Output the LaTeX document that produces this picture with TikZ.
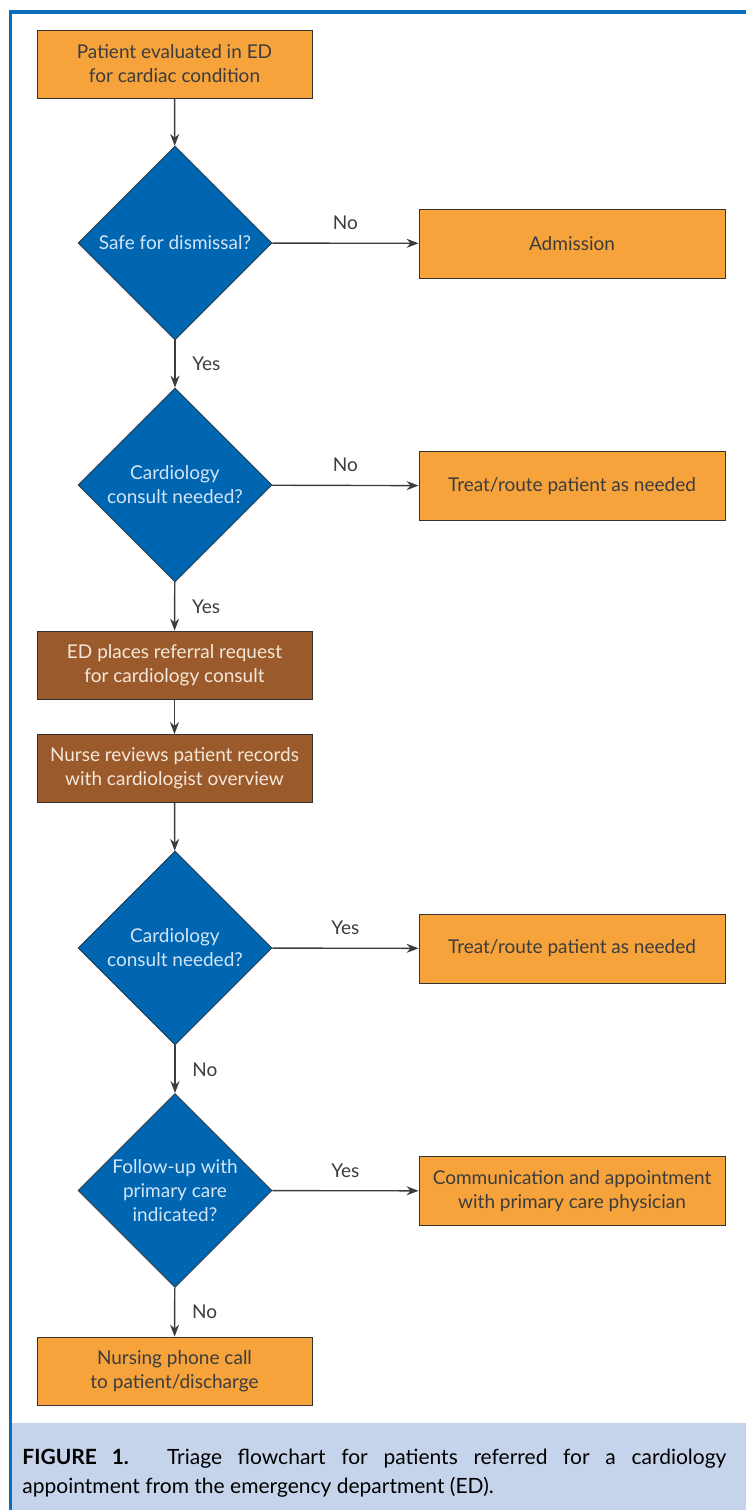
\documentclass[tikz,border=0pt]{standalone}
\usepackage{fontspec}
\setmainfont{Lato}
\usetikzlibrary{shapes.geometric,arrows.meta}
\definecolor{boxorange}{HTML}{F6A33C}
\definecolor{boxbrown}{HTML}{9B5A2B}
\definecolor{dmdblue}{HTML}{0066B2}
\definecolor{framblue}{HTML}{0A6EBD}
\definecolor{capblue}{HTML}{C6D4EB}
\definecolor{dmdtext}{HTML}{D3E5F5}
\definecolor{browntext}{HTML}{F4E8DA}
\definecolor{inkgray}{HTML}{3C3C3C}

\begin{document}
\begin{tikzpicture}[x=0.5pt,y=-0.5pt,
    every node/.style={font=\fontsize{9.5}{12}\selectfont},
    stepbox/.style={draw=black!80,fill=boxorange,text=inkgray,align=center,
        minimum width=137.5pt,minimum height=34pt,inner sep=0pt},
    widebox/.style={stepbox,minimum width=153pt,minimum height=34.5pt},
    brownbox/.style={stepbox,fill=boxbrown,text=browntext},
    decide/.style={diamond,draw=black!80,fill=dmdblue,text=dmdtext,align=center,
        minimum width=97pt,minimum height=97pt,inner sep=0pt},
    flow/.style={draw=inkgray,line width=0.7pt,-{Stealth[length=6pt,width=4.5pt]}},
    lbl/.style={text=inkgray}]
    \useasboundingbox (0,0) rectangle (746,1510);
    \fill[capblue](12,1423) rectangle (746,1510);
    \draw[framblue,line width=1.6pt](10.5,1510)--(10.5,12)--(746,12);

    \node[stepbox](start)at(174.5,64){Patient evaluated in ED\\for cardiac condition};
    \node[decide](safe)at(175,243){Safe for dismissal?};
    \node[widebox](admit)at(572,243.5){Admission};
    \node[decide](consulta)at(175,485){Cardiology\\consult needed?};
    \node[widebox](treata)at(572,486){Treat/route patient as needed};
    \node[brownbox](referral)at(174.5,665){ED places referral request\\for cardiology consult};
    \node[brownbox](review)at(174.5,768.5){Nurse reviews patient records\\with cardiologist overview};
    \node[decide](consultb)at(175,948){Cardiology\\consult needed?};
    \node[widebox](treatb)at(572,948.5){Treat/route patient as needed};
    \node[decide](followup)at(175,1190.5){Follow-up with\\primary care\\indicated?};
    \node[widebox](primary)at(572,1191){Communication and appointment\\with primary care physician};
    \node[stepbox](phone)at(174.5,1371){Nursing phone call\\to patient/discharge};

    \draw[flow](start)--(safe);
    \draw[flow](safe)--node[lbl,above=3pt]{No}(admit);
    \draw[flow](safe)--node[lbl,right=5pt]{Yes}(consulta);
    \draw[flow](consulta)--node[lbl,above=3pt]{No}(treata);
    \draw[flow](consulta)--node[lbl,right=5pt]{Yes}(referral);
    \draw[flow](referral)--(review);
    \draw[flow](review)--(consultb);
    \draw[flow](consultb)--node[lbl,above=3pt]{Yes}(treatb);
    \draw[flow](consultb)--node[lbl,right=5pt]{No}(followup);
    \draw[flow](followup)--node[lbl,above=3pt]{Yes}(primary);
    \draw[flow](followup)--node[lbl,right=5pt]{No}(phone);

    \node[text width=352pt,align=justify,font=\fontsize{10.5}{14.5}\selectfont,inner sep=0pt,anchor=north west]
        (caption)at(22,1449){\textbf{FIGURE 1.} Triage flowchart for patients referred for a cardiology\linebreak appointment from the emergency department (ED).};
\end{tikzpicture}
\end{document}
